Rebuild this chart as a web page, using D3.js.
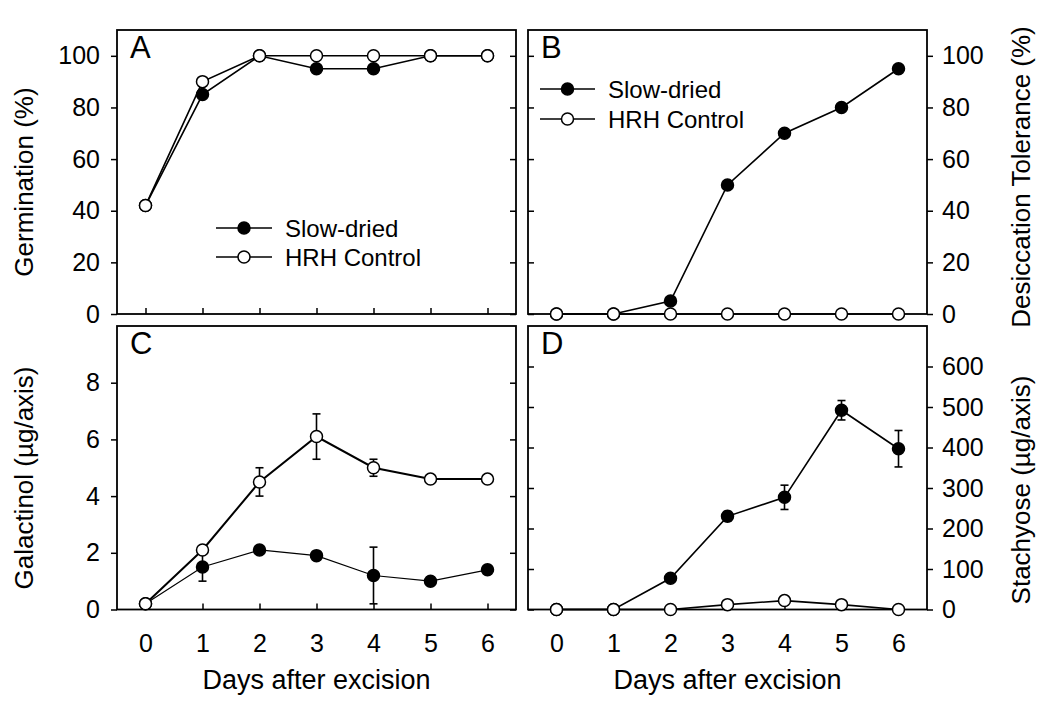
<!DOCTYPE html>
<html lang="en">
<head>
    <meta charset="UTF-8">
    <title>Germination, desiccation tolerance, galactinol and stachyose</title>
    <script src="https://cdn.jsdelivr.net/npm/d3@7"></script>
    <style>
        body { margin: 0; background: #fff; }
        text { font-family: "Liberation Sans", Arial, Helvetica, sans-serif; fill: #000; }
    </style>
</head>
<body>
    <svg id="chart" width="1039" height="704"></svg>
    <script>
        // Data
        var days = [0, 1, 2, 3, 4, 5, 6];

        var germSlow = [42, 85, 100, 95, 95, 100, 100];
        var germHRH  = [42, 90, 100, 100, 100, 100, 100];

        var dtSlow = [0, 0, 5, 50, 70, 80, 95];
        var dtHRH  = [0, 0, 0, 0, 0, 0, 0];

        var galSlow    = [0.2, 1.5, 2.1, 1.9, 1.2, 1.0, 1.4];
        var galSlowErr = [0, 0.5, 0.15, 0.15, 1.0, 0.15, 0.15];
        var galHRH     = [0.2, 2.1, 4.5, 6.1, 5.0, 4.6, 4.6];
        var galHRHErr  = [0, 0.15, 0.5, 0.8, 0.3, 0.15, 0.15];

        var staSlow    = [0, 0, 77, 230, 277, 492, 397];
        var staSlowErr = [0, 0, 8, 12, 30, 24, 45];
        var staHRH     = [0, 0, 0, 12, 22, 12, 0];
        var staHRHErr  = [0, 0, 0, 5, 10, 5, 0];

        var pctTicks = [0, 20, 40, 60, 80, 100];
        var galTicks = [0, 2, 4, 6, 8];
        var staTicks = [0, 100, 200, 300, 400, 500, 600];

        var legendNames = ["Slow-dried", "HRH Control"];

        var svg = d3.select("#chart");

        // panel layout
        var cols = [[117, 516], [528, 927]];
        var rows = [[314, 30], [609.5, 326]];

        var panels = [
            { id: "A", col: 0, row: 0, max: 110, ticks: pctTicks, labelSide: "left",
              slow: germSlow, hrh: germHRH, legend: [216, 272, 228, 257] },
            { id: "B", col: 1, row: 0, max: 110, ticks: pctTicks, labelSide: "right",
              slow: dtSlow, hrh: dtHRH, legend: [540, 595, 89, 119] },
            { id: "C", col: 0, row: 1, max: 10, ticks: galTicks, labelSide: "left",
              slow: galSlow, hrh: galHRH, slowErr: galSlowErr, hrhErr: galHRHErr, xLabels: true, thickHRH: true },
            { id: "D", col: 1, row: 1, max: 700, ticks: staTicks, labelSide: "right",
              slow: staSlow, hrh: staHRH, slowErr: staSlowErr, hrhErr: staHRHErr, xLabels: true }
        ];

        panels.forEach(function (p) {
            var x = d3.scaleLinear().domain([-0.5, 6.5]).range(cols[p.col]);
            var y = d3.scaleLinear().domain([0, p.max]).range(rows[p.row]);
            var g = svg.append("g");

            // bottom ticks (inward)
            var xAxis = d3.axisBottom(x).tickValues(days).tickSize(-6).tickPadding(25)
                .tickFormat(p.xLabels ? d3.format("d") : "");
            var gx = g.append("g").attr("transform", "translate(0," + y.range()[0] + ")").call(xAxis);

            // left / right ticks
            var outer = 6, inner = -6;
            var leftAxis = d3.axisLeft(y).tickValues(p.ticks).tickFormat(d3.format("d"));
            var rightAxis = d3.axisRight(y).tickValues(p.ticks).tickFormat(d3.format("d"));
            if (p.labelSide === "left") {
                leftAxis.tickSize(outer).tickPadding(11);
                rightAxis.tickSize(inner).tickFormat("");
            } else {
                leftAxis.tickSize(inner).tickFormat("");
                rightAxis.tickSize(outer).tickPadding(9);
            }
            var gl = g.append("g").attr("transform", "translate(" + x.range()[0] + ",0)").call(leftAxis);
            var gr = g.append("g").attr("transform", "translate(" + x.range()[1] + ",0)").call(rightAxis);

            [gx, gl, gr].forEach(function (a) {
                a.select(".domain").remove();
                a.selectAll("line").attr("stroke", "#000").attr("stroke-width", 1.5);
                a.selectAll("text").style("font-size", "25px")
                    .style("font-family", "'Liberation Sans', Arial, sans-serif").attr("fill", "#000");
            });

            // frame
            g.append("rect")
                .attr("x", x.range()[0]).attr("y", y.range()[1])
                .attr("width", x.range()[1] - x.range()[0])
                .attr("height", y.range()[0] - y.range()[1])
                .attr("fill", "none").attr("stroke", "#000").attr("stroke-width", 1.8);

            // panel letter
            g.append("text")
                .attr("x", x.range()[0] + 13).attr("y", y.range()[1] + 28)
                .style("font-size", "31px").text(p.id);

            var line = d3.line().x(function (d, i) { return x(days[i]); }).y(function (d) { return y(d); });

            function drawSeries(vals, errs, filled, width) {
                if (errs) {
                    var eb = g.append("g").attr("stroke", "#000").attr("stroke-width", 1.6);
                    vals.forEach(function (v, i) {
                        if (!errs[i]) return;
                        var cx = x(days[i]), y1 = y(v + errs[i]), y2 = y(v - errs[i]);
                        eb.append("line").attr("x1", cx).attr("x2", cx).attr("y1", y1).attr("y2", y2);
                        eb.append("line").attr("x1", cx - 4).attr("x2", cx + 4).attr("y1", y1).attr("y2", y1);
                        eb.append("line").attr("x1", cx - 4).attr("x2", cx + 4).attr("y1", y2).attr("y2", y2);
                    });
                }
                g.append("path").datum(vals).attr("d", line)
                    .attr("fill", "none").attr("stroke", "#000").attr("stroke-width", width);
                g.selectAll(null).data(vals).enter().append("circle")
                    .attr("cx", function (d, i) { return x(days[i]); })
                    .attr("cy", function (d) { return y(d); })
                    .attr("r", 6)
                    .attr("fill", filled ? "#000" : "#fff")
                    .attr("stroke", "#000").attr("stroke-width", 1.5);
            }

            drawSeries(p.slow, p.slowErr, true, p.thickHRH ? 1.2 : 1.6);
            drawSeries(p.hrh, p.hrhErr, false, p.thickHRH ? 2 : 1.6);

            // legend
            if (p.legend) {
                var L = p.legend;
                [L[2], L[3]].forEach(function (ly, i) {
                    g.append("line").attr("x1", L[0]).attr("x2", L[1]).attr("y1", ly).attr("y2", ly)
                        .attr("stroke", "#000").attr("stroke-width", 1.6);
                    g.append("circle").attr("cx", (L[0] + L[1]) / 2).attr("cy", ly).attr("r", 6)
                        .attr("fill", i === 0 ? "#000" : "#fff").attr("stroke", "#000").attr("stroke-width", 1.5);
                    g.append("text").attr("x", L[1] + 13).attr("y", ly + 8.5)
                        .style("font-size", "24px").text(legendNames[i]);
                });
            }
        });

        // axis titles
        function yTitle(txt, cx, cy) {
            svg.append("text")
                .attr("transform", "translate(" + cx + "," + cy + ") rotate(-90)")
                .attr("text-anchor", "middle")
                .style("font-size", "26px").text(txt);
        }
        yTitle("Germination (%)", 33, 182);
        yTitle("Galactinol (\u00b5g/axis)", 33, 478);
        yTitle("Desiccation Tolerance (%)", 1030, 177);
        yTitle("Stachyose (\u00b5g/axis)", 1030, 490);

        [[316.5, "Days after excision"], [727.5, "Days after excision"]].forEach(function (t) {
            svg.append("text").attr("x", t[0]).attr("y", 689)
                .attr("text-anchor", "middle").style("font-size", "27px").text(t[1]);
        });
    </script>
</body>
</html>
